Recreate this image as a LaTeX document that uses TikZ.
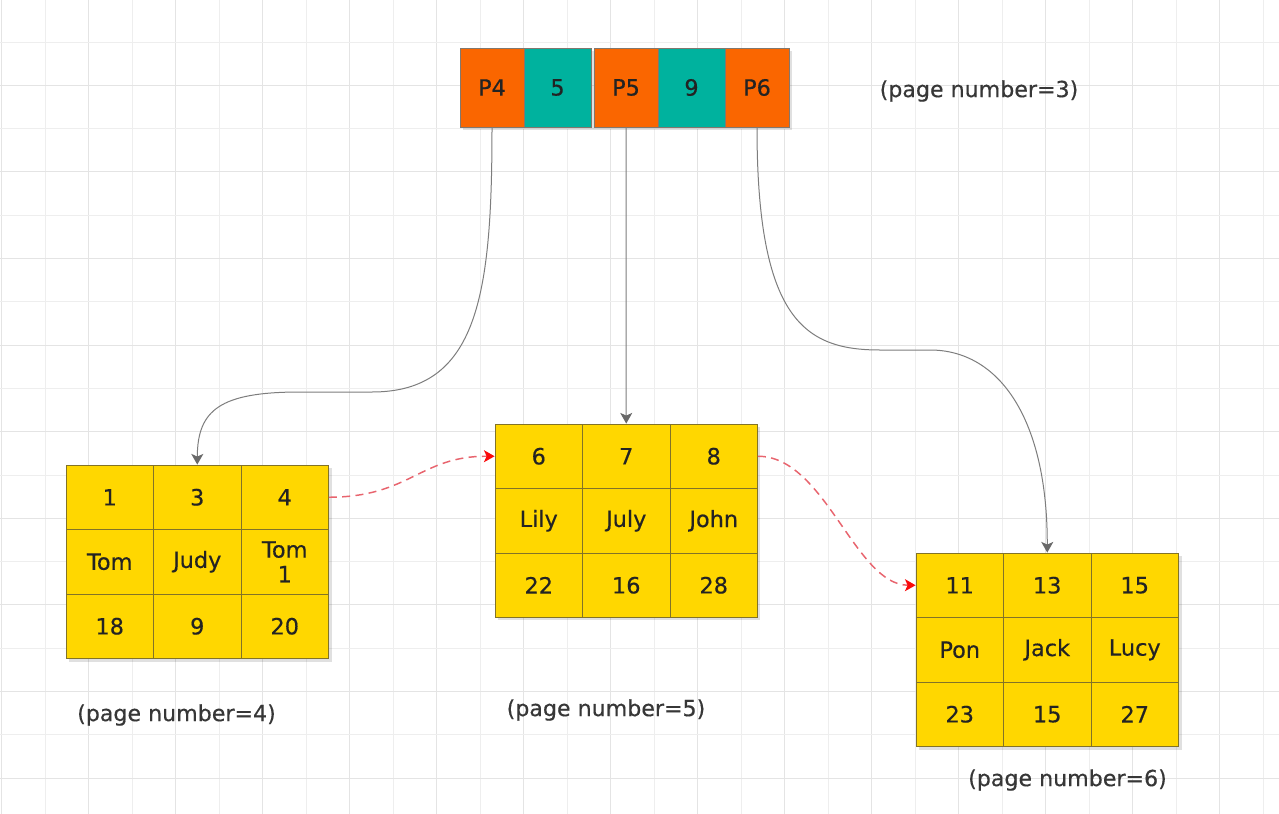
\documentclass[tikz,border=0pt]{standalone}
\usepackage{fontspec}
\setmainfont{DejaVu Sans}
\newfontfamily\dfont{DejaVu Sans}[FakeBold=0.4]
\usetikzlibrary{arrows.meta}
\definecolor{gridA}{RGB}{238,238,238}
\definecolor{gridB}{RGB}{228,228,228}
\definecolor{orng}{RGB}{250,102,0}
\definecolor{tealc}{RGB}{0,178,158}
\definecolor{yel}{RGB}{255,215,0}
\definecolor{yelb}{RGB}{130,115,40}
\definecolor{topb}{RGB}{130,120,110}
\definecolor{txt}{RGB}{35,35,35}
\definecolor{lbl}{RGB}{55,55,55}
\definecolor{conn}{RGB}{125,125,125}
\definecolor{tipg}{RGB}{105,105,105}
\definecolor{dashr}{RGB}{232,100,110}
\definecolor{tipr}{RGB}{250,10,10}
\begin{document}
\begin{tikzpicture}[x=0.75pt,y=-0.75pt,
  cell/.style={draw=yelb, line width=0.6pt, fill=yel, minimum width=65.6pt, minimum height=48.4pt, inner sep=0pt, align=center, text=txt, font=\dfont\fontsize{16.8}{18.5}\selectfont},
  topcell/.style={draw=topb, line width=0.6pt, minimum height=59.25pt, inner sep=0pt, text=txt, font=\dfont\fontsize{16.8}{18.5}\selectfont},
  pagelbl/.style={text=lbl, font=\dfont\fontsize{16.6}{18}\selectfont, inner sep=0pt},
  link/.style={draw=conn, line width=0.75pt, -{Stealth[length=8pt,width=9pt,inset=2pt,color=tipg]}},
  nextlink/.style={draw=dashr, line width=1.1pt, dash pattern=on 6pt off 4pt, -{Stealth[length=8pt,width=9pt,inset=2pt,color=tipr]}},
  shadowbox/.style={fill=black, fill opacity=0.12, draw=none}]
\useasboundingbox (0,0) rectangle (1279,814);
\fill[white] (0,0) rectangle (1279,814);
% grid
\foreach \k in {0,...,29} {
  \pgfmathtruncatemacro\odd{mod(\k,2)}
  \ifnum\odd=0 \def\gc{gridB}\else\def\gc{gridA}\fi
  \draw[\gc, line width=0.75pt] ({1.5+43.5*\k},0) -- ({1.5+43.5*\k},814);
}
\foreach \k in {0,...,17} {
  \pgfmathtruncatemacro\odd{mod(\k,2)}
  \ifnum\odd=1 \def\gc{gridB}\else\def\gc{gridA}\fi
  \draw[\gc, line width=0.75pt] (0,{42+43.3*\k}) -- (1279,{42+43.3*\k});
}
% top page
\fill[shadowbox] (463,51) rectangle (792,130);
\node[topcell, fill=orng, minimum width=48pt] (P4) at (492,87.5) {P4};
\node[topcell, fill=tealc, minimum width=50.25pt] (K5) at (557.5,87.5) {5};
\node[topcell, fill=orng, minimum width=48pt] (P5) at (626,87.5) {P5};
\node[topcell, fill=tealc, minimum width=50.25pt] (K9) at (691.5,87.5) {9};
\node[topcell, fill=orng, minimum width=48pt] (P6) at (757,87.5) {P6};
\node[pagelbl] (lbl3) at (979,91) {(page number=3)};
% shadows of leaf pages
\fill[shadowbox] (69,468) rectangle (332,662);
\fill[shadowbox] (498,427) rectangle (760,620);
\fill[shadowbox] (919,556) rectangle (1182,750);
% left page
\foreach \t [count=\i from 0] in {1,3,4,Tom,Judy,{Tom\\1},18,9,20} {
  \pgfmathtruncatemacro\r{\i/3}
  \pgfmathtruncatemacro\c{\i-3*\r}
  \node[cell] (L\i) at ({66+87.5*(\c+0.5)},{465+64.5*(\r+0.5)}) {\t};
}
% middle page
\foreach \t [count=\i from 0] in {6,7,8,Lily,July,John,22,16,28} {
  \pgfmathtruncatemacro\r{\i/3}
  \pgfmathtruncatemacro\c{\i-3*\r}
  \node[cell] (M\i) at ({495+87.5*(\c+0.5)},{424+64.5*(\r+0.5)}) {\t};
}
% right page
\foreach \t [count=\i from 0] in {11,13,15,Pon,Jack,Lucy,23,15,27} {
  \pgfmathtruncatemacro\r{\i/3}
  \pgfmathtruncatemacro\c{\i-3*\r}
  \node[cell] (R\i) at ({916+87.5*(\c+0.5)},{553+64.5*(\r+0.5)}) {\t};
}
\node[pagelbl] (lbl4) at (176.5,715) {(page number=4)};
\node[pagelbl] (lbl5) at (606,710) {(page number=5)};
\node[pagelbl] (lbl6) at (1067.5,780) {(page number=6)};
% connectors
\draw[link] (P4.south) .. controls (492,295) and (478,392) .. (372,392) -- (300,392) .. controls (220,392) and (197.5,410) .. (L1.north);
\draw[link] (P5.south) -- (M1.north);
\draw[link] (P6.south) .. controls (757,320) and (805,350) .. (880,350) -- (930,350) .. controls (1000,350) and (1047.5,420) .. (R1.north);
\draw[nextlink] (L2.east) .. controls (410,497) and (420,456) .. (M0.west);
\draw[nextlink] (M2.east) .. controls (825,456) and (855,585) .. (R0.west);
\end{tikzpicture}
\end{document}
